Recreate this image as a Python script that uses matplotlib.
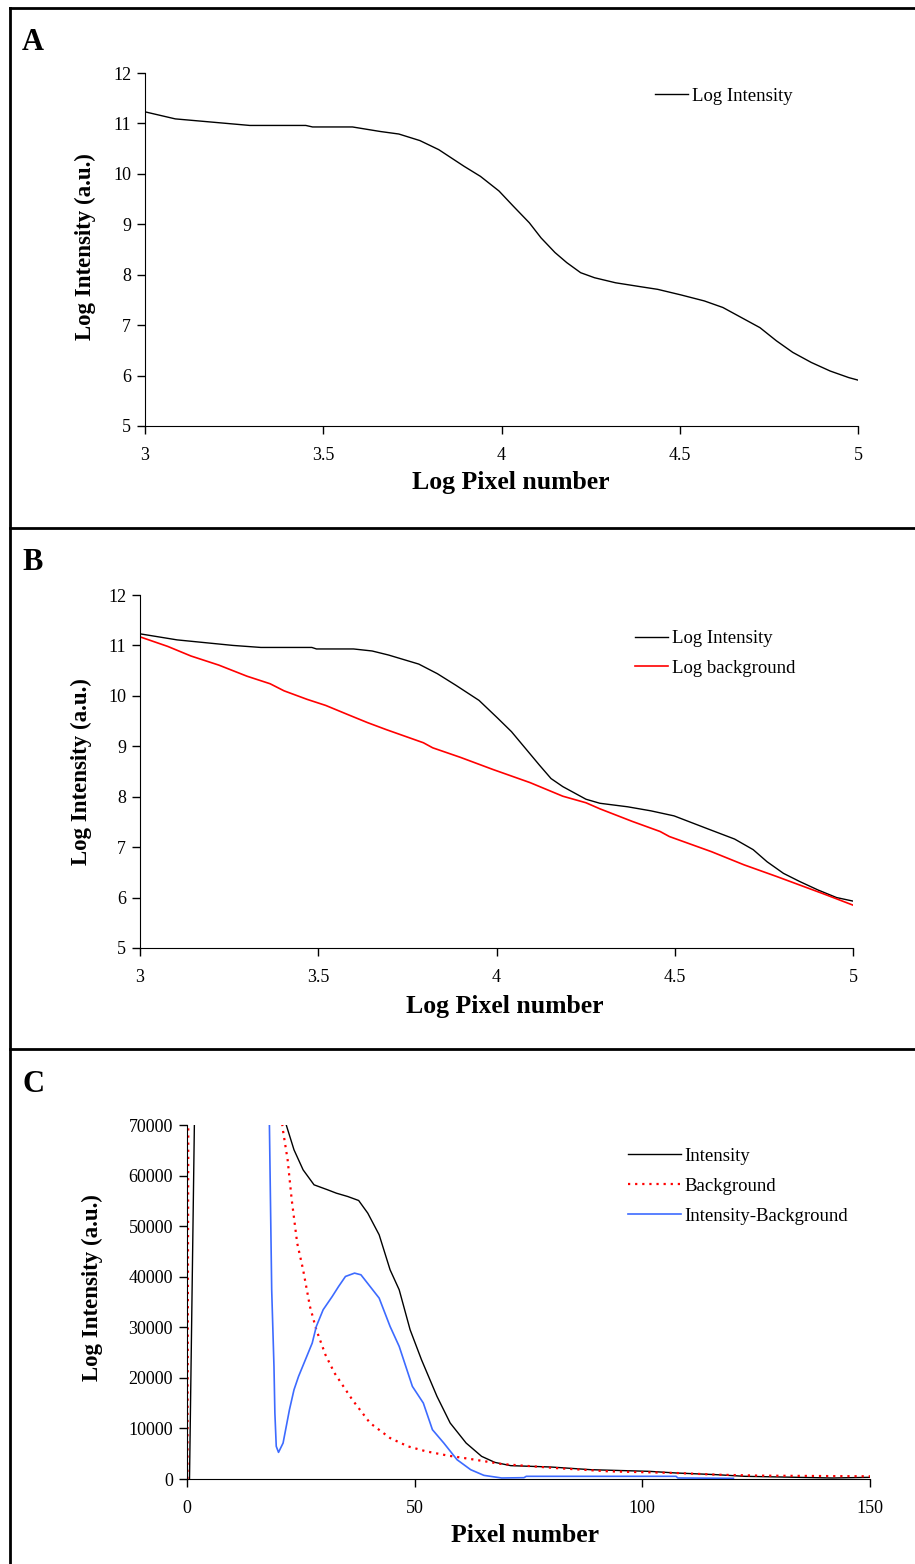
import matplotlib
matplotlib.use("Agg")
import matplotlib.pyplot as plt
from matplotlib.lines import Line2D

plt.rcParams['font.family'] = ['Liberation Serif', 'DejaVu Serif']

# Panel A: log intensity vs log pixel number
a_x = [3.0, 3.085, 3.294, 3.451, 3.47, 3.582, 3.66, 3.712, 3.771, 3.824, 3.895, 3.941,
       3.993, 4.033, 4.078, 4.111, 4.15, 4.183, 4.222, 4.261, 4.32, 4.392, 4.438, 4.503,
       4.569, 4.621, 4.673, 4.725, 4.771, 4.817, 4.869, 4.922, 4.974, 5.0]
a_y = [11.23, 11.09, 10.96, 10.96, 10.93, 10.93, 10.84, 10.79, 10.66, 10.48, 10.15, 9.95,
       9.66, 9.36, 9.03, 8.73, 8.44, 8.24, 8.04, 7.94, 7.84, 7.76, 7.71, 7.60,
       7.48, 7.35, 7.15, 6.95, 6.69, 6.46, 6.26, 6.09, 5.96, 5.91]

# Panel B: log intensity and log background
b_x = [3.0, 3.104, 3.261, 3.339, 3.482, 3.495, 3.599, 3.651, 3.697, 3.782, 3.834, 3.886,
       3.951, 4.003, 4.042, 4.081, 4.12, 4.153, 4.186, 4.251, 4.29, 4.368, 4.433, 4.498,
       4.59, 4.668, 4.72, 4.759, 4.805, 4.85, 4.902, 4.954, 5.0]
b_int = [11.23, 11.11, 11.0, 10.96, 10.96, 10.93, 10.93, 10.89, 10.81, 10.63, 10.44, 10.21,
         9.91, 9.56, 9.29, 8.96, 8.63, 8.36, 8.2, 7.95, 7.87, 7.8, 7.72, 7.62,
         7.37, 7.16, 6.95, 6.71, 6.48, 6.32, 6.15, 6.0, 5.93]
bg_x = [3.0, 3.078, 3.143, 3.221, 3.3, 3.365, 3.404, 3.469, 3.521, 3.586, 3.638, 3.691,
        3.795, 3.821, 3.899, 3.99, 4.094, 4.186, 4.251, 4.29, 4.381, 4.459, 4.485, 4.603,
        4.694, 4.785, 4.85, 4.915, 5.0]
b_bg = [11.17, 10.98, 10.79, 10.61, 10.39, 10.24, 10.10, 9.93, 9.81, 9.62, 9.47, 9.33,
        9.07, 8.97, 8.78, 8.54, 8.28, 8.01, 7.88, 7.76, 7.51, 7.31, 7.21, 6.91,
        6.65, 6.42, 6.25, 6.08, 5.85]

# Panel C: raw profiles
c_int_x = [0.55, 2.0, 21.0, 21.8, 23.5, 25.5, 27.9, 30.9, 32.8, 35.3, 37.7, 39.7, 42.2, 44.6,
           46.6, 49.0, 51.5, 54.9, 57.8, 61.3, 64.7, 67.6, 71.1, 79.9, 88.7, 101.5, 107.4,
           116.2, 122.5, 141.7, 150.0]
c_int_y = [0, 95000, 76000, 70000, 65090, 61130, 58170, 57180, 56520, 55860, 55070, 52570,
           48290, 41370, 37420, 29510, 23580, 16340, 11070, 7110, 4480, 3290, 2640, 2370,
           1840, 1515, 1190, 860, 530, 200, 330]
c_bg_x = [0.1, 0.35, 20.5, 21.0, 22.1, 23.0, 24.2, 25.5, 27.0, 28.4, 30.4, 32.4, 36.3, 40.2,
          44.6, 48.5, 52.5, 57.4, 62.3, 69.1, 80.9, 92.6, 107.4, 116.2, 126.0, 150.0]
c_bg_y = [0, 95000, 74000, 69370, 63110, 55200, 46640, 41370, 34120, 29510, 24570, 20950,
          15680, 11070, 8100, 6460, 5470, 4610, 3950, 2960, 2170, 1515, 1190, 860, 660, 530]
c_diff_x = [17.8, 18.1, 18.6, 19.1, 19.3, 19.6, 20.1, 21.1, 22.5, 23.5, 24.5, 26.0, 27.5,
            28.4, 29.9, 31.9, 33.3, 34.8, 36.8, 38.2, 40.2, 42.2, 44.6, 46.6, 49.5, 51.9,
            53.9, 56.4, 59.3, 62.3, 65.2, 69.1, 74.0, 74.5, 107.4, 107.8, 120.0]
c_diff_y = [95000, 70000, 37420, 22270, 13040, 6460, 5270, 7110, 13700, 17650, 20290, 23580,
            26880, 30170, 33470, 36100, 38080, 40050, 40710, 40380, 38080, 35770, 30170,
            26220, 18310, 15020, 9750, 7110, 3820, 1840, 720, 200, 260, 530, 530, 200, 130]

W, H = 915, 1564
fig = plt.figure(figsize=(W / 100, H / 100), dpi=100)


def box(l, r, b, t):
    return [l / W, 1 - b / H, (r - l) / W, (b - t) / H]


def style(ax):
    ax.spines['top'].set_visible(False)
    ax.spines['right'].set_visible(False)
    ax.tick_params(direction='out', length=6, width=1, labelsize=13, colors='black')
    ax.tick_params(axis='x', pad=9)
    ax.tick_params(axis='y', pad=4)


# A
axA = fig.add_axes(box(145, 858, 426, 73))
axA.plot(a_x, a_y, color='black', lw=1.0, label='Log Intensity')
axA.set_xlim(3, 5)
axA.set_ylim(5, 12)
axA.set_xticks([3, 3.5, 4, 4.5, 5])
axA.set_xticklabels(['3', '3.5', '4', '4.5', '5'])
style(axA)
axA.set_xlabel('Log Pixel number', fontsize=18.5, fontweight='bold')
axA.set_ylabel('Log Intensity (a.u.)', fontsize=16.5, fontweight='bold')
axA.xaxis.set_label_coords(0.513, -0.128)
axA.yaxis.set_label_coords(-0.069, 0.507)
axA.legend(loc='upper left', bbox_to_anchor=(0.715, 0.959), frameon=False, fontsize=13.5,
           handlelength=1.76, handletextpad=0.2, borderpad=0, borderaxespad=0)

# B
axB = fig.add_axes(box(140, 853, 948, 595))
axB.plot(b_x, b_int, color='black', lw=1.0, label='Log Intensity')
axB.plot(bg_x, b_bg, color='#ff0000', lw=1.2, label='Log background')
axB.set_xlim(3, 5)
axB.set_ylim(5, 12)
axB.set_xticks([3, 3.5, 4, 4.5, 5])
axB.set_xticklabels(['3', '3.5', '4', '4.5', '5'])
style(axB)
axB.set_xlabel('Log Pixel number', fontsize=18.5, fontweight='bold')
axB.set_ylabel('Log Intensity (a.u.)', fontsize=16.5, fontweight='bold')
axB.xaxis.set_label_coords(0.512, -0.134)
axB.yaxis.set_label_coords(-0.067, 0.5)
axB.legend(loc='upper left', bbox_to_anchor=(0.694, 0.901), frameon=False, fontsize=13.5,
           handlelength=1.76, handletextpad=0.2, borderpad=0, borderaxespad=0, labelspacing=0.68)

# C
axC = fig.add_axes(box(187, 870, 1479, 1125))
axC.plot(c_int_x, c_int_y, color='black', lw=1.0, label='Intensity')
axC.plot(c_bg_x, c_bg_y, color='#ff0000', lw=1.6, ls=(0, (1.0, 2.2)), label='Background')
axC.plot(c_diff_x, c_diff_y, color='#3d6bff', lw=1.2, label='Intensity-Background')
axC.set_xlim(0, 150)
axC.set_ylim(0, 70000)
axC.set_xticks([0, 50, 100, 150])
axC.set_yticks(range(0, 70001, 10000))
style(axC)
axC.set_xlabel('Pixel number', fontsize=18.5, fontweight='bold')
axC.set_ylabel('Log Intensity (a.u.)', fontsize=16.5, fontweight='bold')
axC.xaxis.set_label_coords(0.495, -0.127)
axC.yaxis.set_label_coords(-0.123, 0.54)
axC.legend(loc='upper left', bbox_to_anchor=(0.646, 0.936), frameon=False, fontsize=13.5,
           handlelength=2.8, handletextpad=0.2, borderpad=0, borderaxespad=0, labelspacing=0.68)

# panel letters
for lab, yy in [('A', 42), ('B', 562), ('C', 1085)]:
    fig.text(33 / W, 1 - yy / H, lab, fontsize=22, fontweight='bold', ha='center', va='center')

# frame lines
for yy in [8, 528, 1049]:
    fig.add_artist(Line2D([10 / W, 1], [1 - yy / H, 1 - yy / H], color='black', lw=2.0,
                          transform=fig.transFigure))
fig.add_artist(Line2D([10 / W, 10 / W], [0, 1 - 8 / H], color='black', lw=2.0,
                      transform=fig.transFigure))

fig.savefig('out.png', dpi=100)
